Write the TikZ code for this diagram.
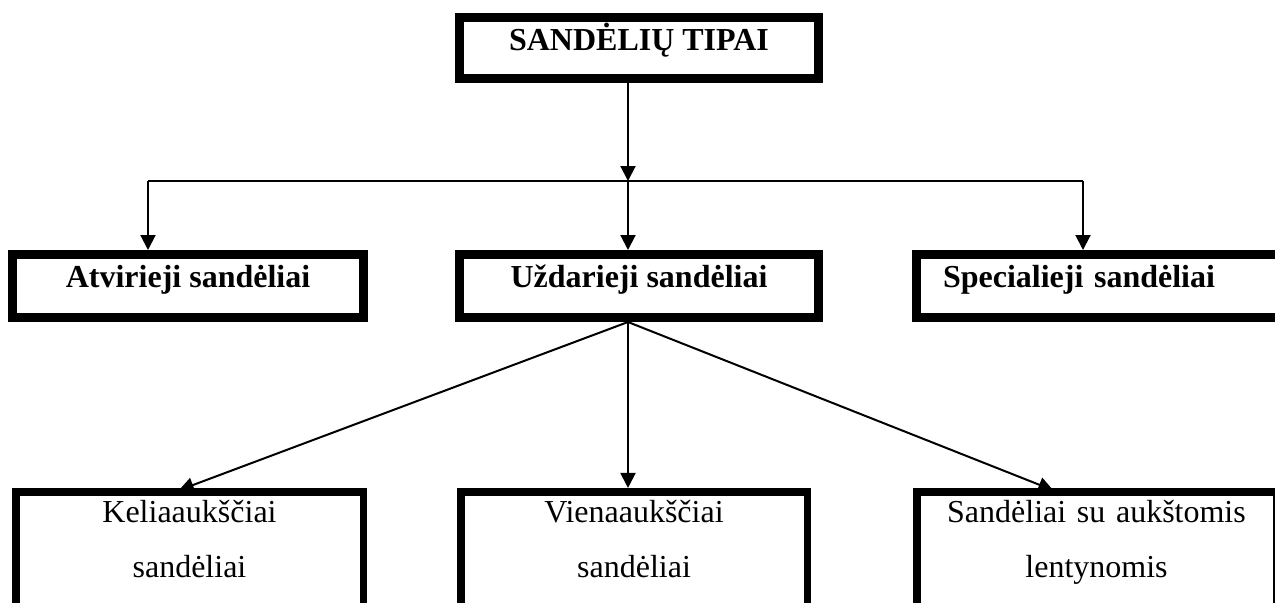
\documentclass[tikz,border=0pt]{standalone}
\usepackage{fontspec}
\setmainfont{Liberation Serif}
\usetikzlibrary{arrows.meta}

\begin{document}
\begin{tikzpicture}[x=0.5pt, y=-0.5pt,
    kind/.style={draw, line width=4.5pt, inner sep=0pt, outer sep=0pt, font=\bfseries\fontsize{16}{19}\selectfont},
    sort/.style={draw, line width=3.75pt, inner sep=0pt, outer sep=0pt, align=center, font=\fontsize{16}{27.5}\selectfont, text height=15.125pt, text depth=80pt},
    arr/.style={line width=1pt, -{Triangle[length=7.5pt, width=7.5pt]}}]
  \useasboundingbox (0,0) rectangle (1275,602);
  \clip (0,0) rectangle (1275,602);
  \node[kind, anchor=north, minimum width=179.5pt, text height=16.25pt, text depth=14.25pt] (types) at (639,17.5) {SANDĖLIŲ TIPAI};
  \node[kind, anchor=north, minimum width=175.5pt, text height=16.25pt, text depth=15.25pt] (open) at (188,254.5) {Atvirieji sandėliai};
  \node[kind, anchor=north, minimum width=179.5pt, text height=16.25pt, text depth=15.25pt] (closed) at (639,254.5) {Uždarieji sandėliai};
  \node[kind, anchor=north west, inner xsep=13.25pt, text width=190pt, align=left, text height=16.25pt, text depth=15.25pt] (special) at (916.5,254.5) {Specialieji sandėliai};
  \node[sort, anchor=north, text width=173.75pt] (multi) at (189.5,491.75) {Keliaaukščiai\\sandėliai};
  \node[sort, anchor=north, text width=173.25pt] (single) at (634,491.75) {Vienaaukščiai\\sandėliai};
  \node[sort, anchor=north west, text width=179.75pt] (racks) at (916.75,491.75) {Sandėliai su aukštomis\\lentynomis};
  \coordinate (split) at (628,181);
  \coordinate (lft) at (148,181);
  \coordinate (rgt) at (1083,181);
  \coordinate (fork) at (628,322);
  \draw[arr] (types.south -| split) -- (split);
  \draw[line width=1pt] (lft) -- (rgt);
  \draw[arr, shorten >=2.25pt] (lft) -- (lft |- open.north);
  \draw[arr, shorten >=2.25pt] (split) -- (split |- closed.north);
  \draw[arr, shorten >=2.25pt] (rgt) -- (rgt |- special.north);
  \draw[arr, shorten >=2pt] (fork) -- ([xshift=-7.25pt]multi.north);
  \draw[arr, shorten >=1.9pt] (fork) -- (fork |- single.north);
  \draw[arr, shorten >=2pt] (fork) -- ([xshift=-19.75pt]racks.north);
\end{tikzpicture}
\end{document}
